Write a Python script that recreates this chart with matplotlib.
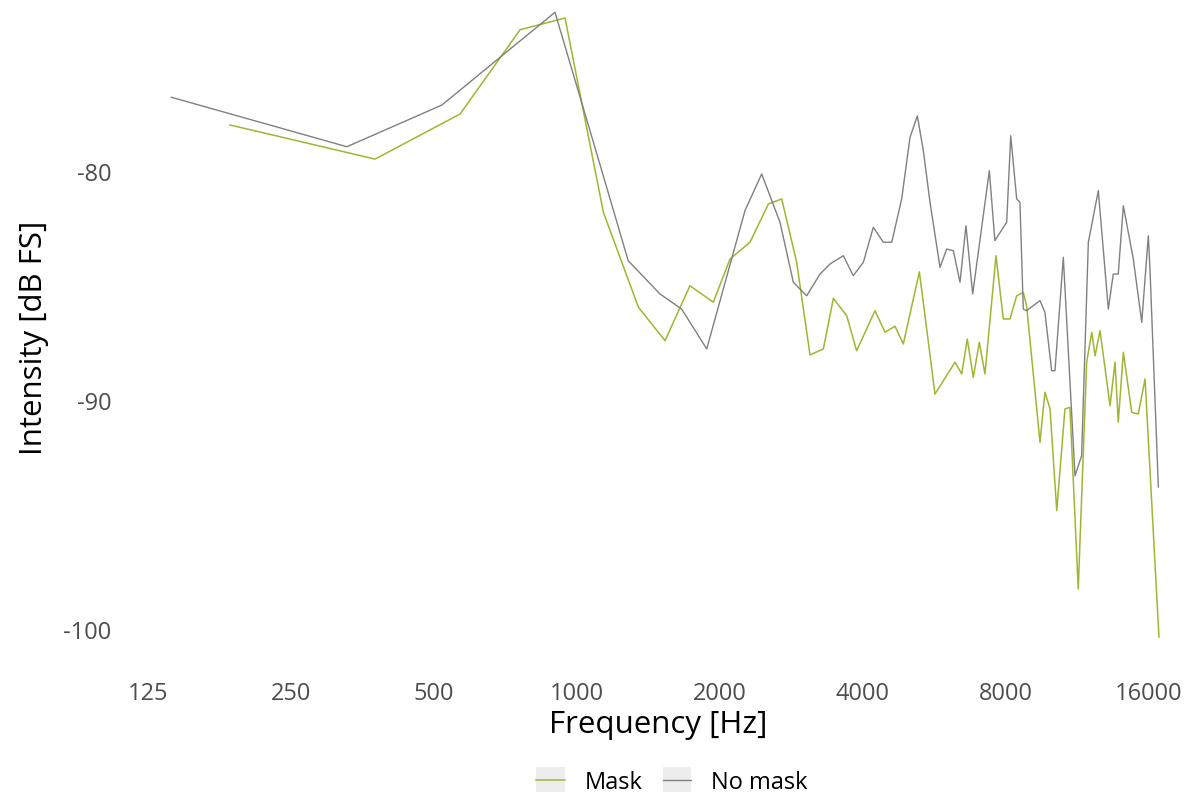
import matplotlib.pyplot as plt
import numpy as np
from matplotlib.legend_handler import HandlerLine2D
from matplotlib.patches import Rectangle

plt.rcParams["font.family"] = ["Open Sans", "DejaVu Sans"]

# values
mask_freq = [186, 376, 568, 760, 945, 1138, 1349, 1535, 1732, 1940, 2104, 2318,
             2534, 2703, 2907, 3101, 3308, 3473, 3705, 3888, 4250, 4461, 4683,
             4876, 5271, 5685, 6266, 6471, 6650, 6846, 7049, 7245, 7643, 7919,
             8179, 8450, 8725, 8866, 9462, 9690, 9933, 10262, 10680, 10941,
             11390, 11866, 12160, 12360, 12660, 13290, 13615, 13830, 14175,
             14765, 15240, 15750, 16850]
mask_db = [-77.99, -79.48, -77.51, -73.83, -73.32, -81.80, -85.95, -87.41,
           -85.01, -85.73, -83.84, -83.11, -81.44, -81.22, -83.99, -88.03,
           -87.77, -85.56, -86.32, -87.85, -86.10, -87.04, -86.78, -87.55,
           -84.40, -89.74, -88.35, -88.86, -87.34, -89.01, -87.48, -88.86,
           -83.70, -86.46, -86.46, -85.45, -85.30, -85.88, -91.85, -89.66,
           -90.39, -94.83, -90.39, -90.32, -98.25, -88.35, -87.04, -88.07,
           -86.97, -90.25, -88.35, -90.97, -87.92, -90.54, -90.61, -89.08,
           -100.35]

nomask_freq = [140, 328, 520, 710, 900, 1090, 1284, 1498, 1664, 1879, 2262,
               2453, 2681, 2860, 3051, 3255, 3417, 3645, 3825, 4016, 4215,
               4425, 4610, 4837, 5037, 5219, 5373, 5550, 5826, 6016, 6214,
               6419, 6607, 6826, 7400, 7602, 8050, 8209, 8450, 8585, 8725,
               8866, 9462, 9690, 10013, 10175, 10595, 11213, 11577, 11962,
               12555, 13180, 13500, 13830, 14175, 14877, 15500, 16000, 16130,
               16800]
nomask_db = [-76.78, -78.94, -77.12, -74.82, -73.07, -78.90, -83.92, -85.37,
             -86.03, -87.77, -81.73, -80.13, -82.24, -84.86, -85.45, -84.50,
             -84.06, -83.70, -84.57, -83.99, -82.46, -83.11, -83.11, -81.22,
             -78.53, -77.59, -79.11, -81.37, -84.21, -83.41, -83.48, -84.86,
             -82.39, -85.37, -79.99, -83.04, -82.24, -78.46, -81.22, -81.37,
             -86.03, -86.10, -85.66, -86.17, -88.72, -88.72, -83.77, -93.31,
             -92.44, -83.11, -80.86, -86.03, -84.50, -84.50, -81.52, -83.84,
             -86.61, -82.83, -84.28, -93.80]

x_ticks = [125, 250, 500, 1000, 2000, 4000, 8000, 16000]
y_ticks = [-80, -90, -100]

MASK_COLOR = "#a2b532"
NOMASK_COLOR = "#808080"
KEY_BG = "#ededed"
TICK_COLOR = "#4d4d4d"


class BoxedKey(HandlerLine2D):
    """ggplot style legend key: grey box behind the line."""

    def create_artists(self, legend, orig_handle, xdescent, ydescent,
                       width, height, fontsize, trans):
        box_h = width * 0.9
        bg = Rectangle((-xdescent, -ydescent + height / 2 - box_h / 2), width, box_h,
                       facecolor=KEY_BG, edgecolor="none", transform=trans)
        lines = super().create_artists(legend, orig_handle, xdescent, ydescent,
                                       width, height, fontsize, trans)
        for ln in lines:
            if hasattr(ln, "get_xdata") and len(ln.get_xdata()) == 2:
                x0, x1 = ln.get_xdata()
                pad = (x1 - x0) * 0.15
                ln.set_xdata([x0 + pad, x1 - pad])
        return [bg] + lines


W, H = 1204, 804
fig = plt.figure(figsize=(W / 100, H / 100), dpi=100)

# panel in pixels (left, right, top, bottom)
px_l, px_r, px_t, px_b = 117, 1200, 0, 675
ax = fig.add_axes([px_l / W, 1 - px_b / H, (px_r - px_l) / W, (px_b - px_t) / H])

# axis calibration: 125 Hz at x=148, 142.9 px per octave; -80 dB at y=172, 22.9 px per dB
oct_px, db_px = 142.9, 22.9
ax.set_xscale("log", base=2)
ax.set_xlim(125 * 2 ** ((px_l - 148) / oct_px), 125 * 2 ** ((px_r - 148) / oct_px))
ax.set_ylim(-80 - (px_b - 172) / db_px, -80 + (172 - px_t) / db_px)

ax.plot(mask_freq, mask_db, color=MASK_COLOR, lw=1.1, label="Mask")
ax.plot(nomask_freq, nomask_db, color=NOMASK_COLOR, lw=1.0, label="No mask")

ax.set_xticks(x_ticks)
ax.set_xticklabels([str(t) for t in x_ticks])
ax.xaxis.set_minor_locator(plt.NullLocator())
ax.set_yticks(y_ticks)
ax.set_yticklabels([str(t) for t in y_ticks])
ax.tick_params(axis="both", length=0, labelsize=17, colors=TICK_COLOR)
ax.tick_params(axis="x", pad=5)
ax.tick_params(axis="y", pad=4)

for s in ax.spines.values():
    s.set_visible(False)
ax.grid(False)

ax.set_xlabel("Frequency [Hz]", fontsize=22.5, labelpad=3)
ax.set_ylabel("Intensity [dB FS]", fontsize=22.5, labelpad=10)

handles, labels = ax.get_legend_handles_labels()
fig.legend(handles, labels, loc="center", bbox_to_anchor=(672 / W, 1 - 783 / H),
           ncol=2, frameon=False, fontsize=17, handlelength=1.2,
           handletextpad=0.85, columnspacing=0.85,
           handler_map={h: BoxedKey() for h in handles})

fig.savefig("out.png", dpi=100, facecolor="white")
